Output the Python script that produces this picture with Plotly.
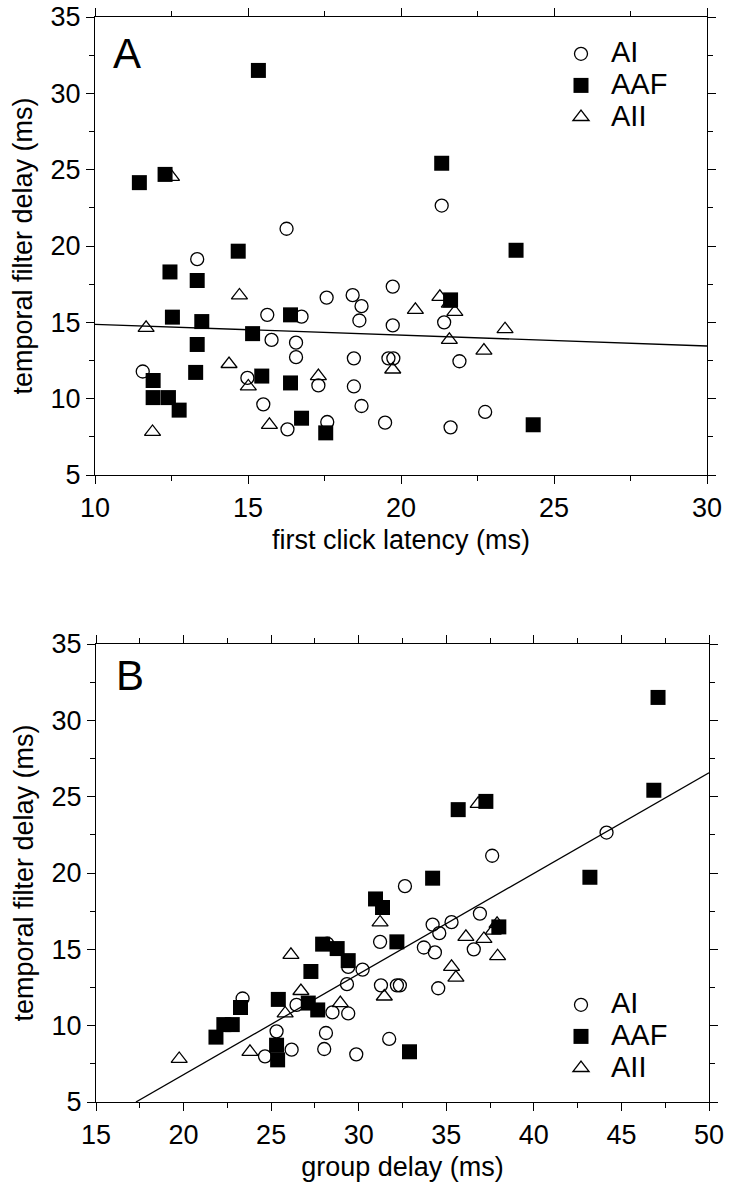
import plotly.graph_objects as go

# ---------------- data ----------------
# AI (open circles)
ai_delay = [22.65, 21.13, 19.14, 17.34, 16.78, 16.62, 16.06, 15.49, 15.37, 15.12,
            15.0, 14.8, 13.85, 13.67, 12.72, 12.64, 12.64, 12.64, 12.45, 11.78,
            11.36, 10.87, 10.8, 9.63, 9.52, 9.13, 8.47, 8.43, 8.12, 7.99]
ai_latency = [21.33, 16.26, 13.34, 19.73, 18.42, 17.57, 18.71, 15.63, 16.75, 18.64,
              21.41, 19.73, 15.77, 16.57, 16.57, 18.46, 19.59, 19.75, 21.91, 11.56,
              14.98, 17.3, 18.46, 15.5, 18.71, 22.75, 17.59, 19.48, 21.62, 16.29]
ai_group = [44.15, 37.62, 32.64, 36.92, 35.3, 34.22, 34.6, 31.22, 28.2, 33.72,
            36.57, 34.35, 29.4, 30.22, 29.33, 31.27, 32.18, 32.35, 34.54, 23.37,
            26.45, 28.5, 29.4, 25.31, 28.13, 31.74, 28.03, 26.17, 29.86, 24.65]

# AAF (filled squares)
aaf_delay = [31.5, 24.15, 24.69, 25.42, 19.66, 19.72, 18.3, 17.74, 15.34, 15.05,
             13.55, 11.72, 14.26, 15.49, 11.19, 10.07, 10.07, 9.25, 11.48, 11.03,
             8.72, 7.76, 16.47, 8.29]
aaf_latency = [15.34, 11.45, 12.29, 21.33, 14.68, 23.76, 12.45, 13.34, 12.53, 13.49,
               13.34, 13.29, 15.15, 16.39, 11.9, 11.9, 12.4, 12.75, 15.45, 16.39,
               16.75, 17.54, 21.62, 24.32]
aaf_group = [47.09, 35.68, 37.26, 46.85, 34.22, 43.2, 30.96, 31.36, 27.94, 28.77,
             27.27, 25.41, 29.4, 32.18, 23.25, 22.3, 22.78, 21.85, 27.12, 27.66,
             25.31, 25.37, 38.0, 32.9]

# AII (open triangles)
aii_delay = [24.53, 14.64, 16.76, 12.27, 10.8, 11.48, 8.28, 7.82, 11.91, 15.82,
             16.67, 16.23, 15.68, 13.85, 13.15, 14.55]
aii_latency = [12.5, 11.67, 14.72, 14.38, 15.01, 17.3, 15.7, 11.88, 19.73, 20.47,
               21.27, 21.58, 21.76, 21.58, 22.71, 23.4]
aii_group = [36.82, 26.13, 31.22, 26.7, 25.8, 28.95, 23.79, 19.75, 31.46, 36.12,
             37.9, 37.68, 37.15, 35.3, 35.55, 37.93]

# regression lines (end points)
fit_a_x = [10, 30]
fit_a_y = [14.87, 13.45]
fit_b_x = [17.28, 50]
fit_b_y = [5, 26.57]

# axis settings
x_a_range = [10, 30]
x_b_range = [15, 50]
y_range = [5, 35]

legend_names = ["AI", "AAF", "AII"]

# ---------------- figure ----------------
W, H = 731, 1199
FONT = "Liberation Sans, Arial, Helvetica, sans-serif"


def px_x(p):
    return p / W


def px_y(p):
    return 1 - p / H


def big(name):
    return "<span style='font-size:29px'>" + name + "</span>"


fig = go.Figure()


def add_panel(xs, xref, yref, legend):
    lat_ai, lat_aaf, lat_aii = xs
    fig.add_trace(go.Scatter(
        x=lat_ai, y=ai_delay, xaxis=xref, yaxis=yref, mode="markers",
        name=big(legend_names[0]), legend=legend, legendrank=1,
        marker=dict(symbol="circle-open", size=13, color="black", line=dict(width=1.3))))
    fig.add_trace(go.Scatter(
        x=lat_aii, y=aii_delay, xaxis=xref, yaxis=yref, mode="markers",
        name=big(legend_names[2]), legend=legend, legendrank=3,
        marker=dict(symbol="triangle-up-open", size=14, color="black", line=dict(width=1.3))))
    fig.add_trace(go.Scatter(
        x=lat_aaf, y=aaf_delay, xaxis=xref, yaxis=yref, mode="markers",
        name=big(legend_names[1]), legend=legend, legendrank=2,
        marker=dict(symbol="square", size=15, color="black", line=dict(width=0))))


add_panel((ai_latency, aaf_latency, aii_latency), "x", "y", "legend")
fig.add_trace(go.Scatter(x=fit_a_x, y=fit_a_y, xaxis="x", yaxis="y", mode="lines",
                         line=dict(color="black", width=1.3), showlegend=False))
add_panel((ai_group, aaf_group, aii_group), "x2", "y2", "legend2")
fig.add_trace(go.Scatter(x=fit_b_x, y=fit_b_y, xaxis="x2", yaxis="y2", mode="lines",
                         line=dict(color="black", width=1.3), showlegend=False))


def axis_common(rng):
    return dict(
        range=rng, dtick=5, ticks="outside", ticklen=8, tickwidth=1.2, tickcolor="black",
        minor=dict(dtick=2.5, ticks="outside", ticklen=5, tickwidth=1.1, tickcolor="black"),
        showline=True, linecolor="black", linewidth=1.2, mirror="ticks",
        showgrid=False, zeroline=False, automargin=False,
        ticklabeloverflow="allow",
        tickfont=dict(family=FONT, size=27, color="black"),
    )


ya_top, ya_bot = 17, 475
yb_top, yb_bot = 644, 1102

fig.update_layout(
    width=W, height=H,
    margin=dict(l=0, r=0, t=0, b=0),
    paper_bgcolor="white", plot_bgcolor="white",
    font=dict(family=FONT, color="black"),
    xaxis=dict(axis_common(x_a_range), domain=[px_x(95), px_x(707)], anchor="y",
               title=dict(text="first click latency (ms)", standoff=8,
                          font=dict(family=FONT, size=27))),
    yaxis=dict(axis_common(y_range), domain=[px_y(ya_bot), px_y(ya_top)], anchor="x",
               title=dict(text="temporal filter delay (ms)", standoff=10,
                          font=dict(family=FONT, size=27))),
    xaxis2=dict(axis_common(x_b_range), domain=[px_x(96), px_x(709)], anchor="y2",
                title=dict(text="group delay (ms)", standoff=8,
                           font=dict(family=FONT, size=27))),
    yaxis2=dict(axis_common(y_range), domain=[px_y(yb_bot), px_y(yb_top)], anchor="x2",
                title=dict(text="temporal filter delay (ms)", standoff=10,
                           font=dict(family=FONT, size=27))),
    legend=dict(x=px_x(551), y=px_y(33), xanchor="left", yanchor="top",
                bgcolor="rgba(0,0,0,0)", itemwidth=50, tracegroupgap=0,
                font=dict(family=FONT, size=22, color="black")),
    legend2=dict(x=px_x(551), y=px_y(984), xanchor="left", yanchor="top",
                 bgcolor="rgba(0,0,0,0)", itemwidth=50, tracegroupgap=0,
                 font=dict(family=FONT, size=22, color="black")),
    annotations=[
        dict(text="A", x=px_x(111), y=px_y(53), xref="paper", yref="paper",
             xanchor="left", yanchor="middle", showarrow=False,
             font=dict(family=FONT, size=42, color="black")),
        dict(text="B", x=px_x(114), y=px_y(675), xref="paper", yref="paper",
             xanchor="left", yanchor="middle", showarrow=False,
             font=dict(family=FONT, size=42, color="black")),
    ],
)

fig.write_html(
    "out.html",
    config={"displayModeBar": False},
    post_script="document.body.style.margin='0';document.body.style.overflow='hidden';",
)
